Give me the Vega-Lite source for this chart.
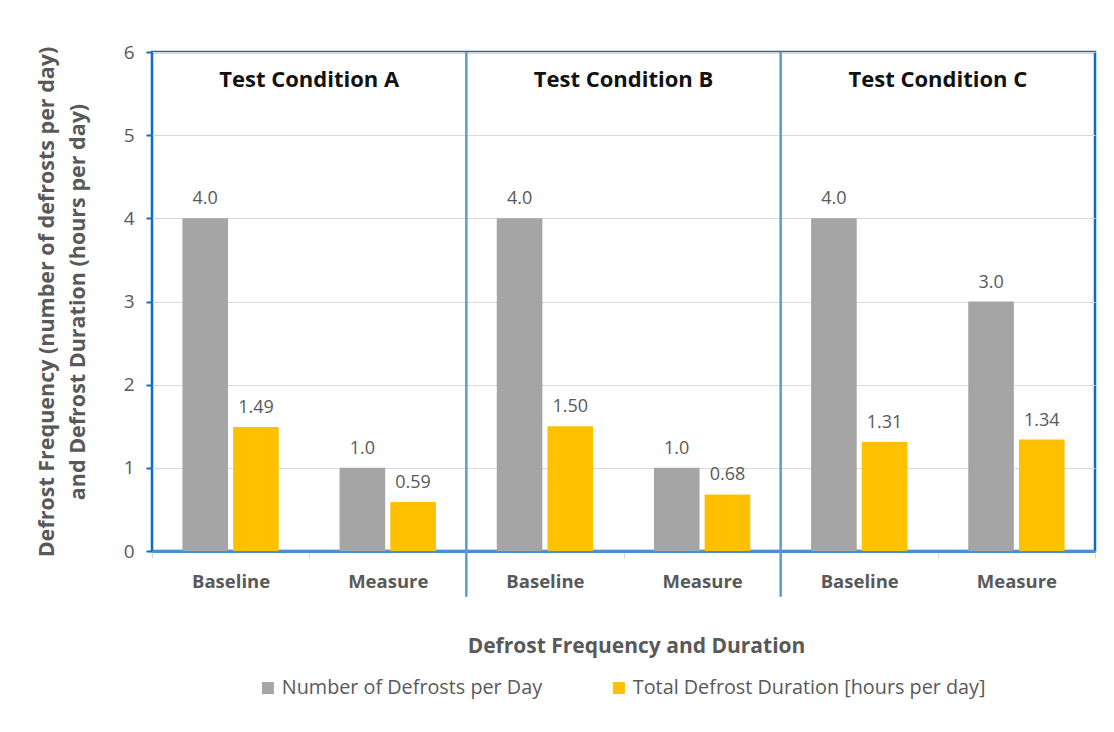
{
  "$schema": "https://vega.github.io/schema/vega-lite/v6.json",
  "width": 943,
  "height": 499,
  "autosize": {"type": "none"},
  "padding": {"left": 152, "top": 52, "right": 19, "bottom": 181},
  "background": "white",
  "config": {
    "font": "Open Sans",
    "view": {"stroke": "#0a6ec4", "strokeWidth": 2.5},
    "axis": {"labelFont": "Open Sans", "titleFont": "Open Sans"}
  },
  "datasets": {
    "bars": [
      {"grp": "A-Baseline", "series": "Number of Defrosts per Day", "value": 4.0, "label": "4.0"},
      {"grp": "A-Baseline", "series": "Total Defrost Duration [hours per day]", "value": 1.49, "label": "1.49"},
      {"grp": "A-Measure", "series": "Number of Defrosts per Day", "value": 1.0, "label": "1.0"},
      {"grp": "A-Measure", "series": "Total Defrost Duration [hours per day]", "value": 0.59, "label": "0.59"},
      {"grp": "B-Baseline", "series": "Number of Defrosts per Day", "value": 4.0, "label": "4.0"},
      {"grp": "B-Baseline", "series": "Total Defrost Duration [hours per day]", "value": 1.50, "label": "1.50"},
      {"grp": "B-Measure", "series": "Number of Defrosts per Day", "value": 1.0, "label": "1.0"},
      {"grp": "B-Measure", "series": "Total Defrost Duration [hours per day]", "value": 0.68, "label": "0.68"},
      {"grp": "C-Baseline", "series": "Number of Defrosts per Day", "value": 4.0, "label": "4.0"},
      {"grp": "C-Baseline", "series": "Total Defrost Duration [hours per day]", "value": 1.31, "label": "1.31"},
      {"grp": "C-Measure", "series": "Number of Defrosts per Day", "value": 3.0, "label": "3.0"},
      {"grp": "C-Measure", "series": "Total Defrost Duration [hours per day]", "value": 1.34, "label": "1.34"}
    ],
    "dividers": [
      {"grp": "A-Measure", "top": 6, "bottom": -0.55},
      {"grp": "B-Measure", "top": 6, "bottom": -0.55}
    ],
    "conditions": [
      {"grp": "A-Baseline", "name": "Test Condition A", "pos": 5.66},
      {"grp": "B-Baseline", "name": "Test Condition B", "pos": 5.66},
      {"grp": "C-Baseline", "name": "Test Condition C", "pos": 5.66}
    ]
  },
  "layer": [
    {
      "data": {"name": "bars"},
      "mark": {"type": "bar"},
      "encoding": {
        "x": {
          "field": "grp",
          "type": "nominal",
          "scale": {
            "domain": ["A-Baseline", "A-Measure", "B-Baseline", "B-Measure", "C-Baseline", "C-Measure"],
            "paddingInner": 0,
            "paddingOuter": 0
          },
          "axis": {
            "title": "Defrost Frequency and Duration",
            "titleFontSize": 21,
            "titleFontWeight": "bold",
            "titleColor": "#595959",
            "titlePadding": 45,
            "titleX": 484,
            "labelExpr": "split(datum.label, '-')[1]",
            "labelAngle": 0,
            "labelFontSize": 18.5,
            "labelFontWeight": "bold",
            "labelColor": "#595959",
            "labelPadding": 14,
            "domainColor": "#4a8fd6",
            "domainWidth": 3,
            "tickColor": "#d9d9d9",
            "tickSize": 7,
            "tickBand": "extent",
            "grid": false
          }
        },
        "xOffset": {
          "field": "series",
          "type": "nominal",
          "scale": {"paddingInner": 0.1, "paddingOuter": 0.6}
        },
        "y": {
          "field": "value",
          "type": "quantitative",
          "scale": {"domain": [0, 6], "nice": false, "zero": true},
          "axis": {
            "title": ["Defrost Frequency (number of defrosts per day)", "and Defrost Duration  (hours per day)"],
            "titleFontSize": 21.5,
            "titleFontWeight": "bold",
            "titleColor": "#595959",
            "titleLineHeight": 31,
            "titlePadding": 34,
            "values": [0, 1, 2, 3, 4, 5, 6],
            "format": "d",
            "labelOverlap": false,
            "labelFontSize": 19,
            "labelColor": "#595959",
            "labelPadding": 12,
            "domain": false,
            "tickColor": "#0a6ec4",
            "tickSize": 6,
            "tickWidth": 2,
            "grid": true,
            "gridColor": "#d9d9d9",
            "gridWidth": 1
          }
        },
        "color": {
          "field": "series",
          "type": "nominal",
          "scale": {
            "domain": ["Number of Defrosts per Day", "Total Defrost Duration [hours per day]"],
            "range": ["#a5a5a5", "#ffc000"]
          },
          "legend": {
            "title": null,
            "orient": "none",
            "direction": "horizontal",
            "legendX": 106,
            "legendY": 626,
            "symbolType": "square",
            "symbolSize": 144,
            "symbolStrokeWidth": 0,
            "labelFontSize": 19.8,
            "labelColor": "#595959",
            "labelFont": "Open Sans",
            "labelLimit": 0,
            "labelOffset": 4,
            "columnPadding": 66
          }
        }
      }
    },
    {
      "data": {"name": "bars"},
      "mark": {"type": "text", "baseline": "bottom", "dy": -10, "fontSize": 18, "color": "#595959"},
      "encoding": {
        "x": {"field": "grp", "type": "nominal"},
        "xOffset": {"field": "series", "type": "nominal"},
        "y": {"field": "value", "type": "quantitative"},
        "text": {"field": "label", "type": "nominal"}
      }
    },
    {
      "data": {"name": "dividers"},
      "mark": {"type": "rule", "color": "#5b9bd5", "strokeWidth": 2.5},
      "encoding": {
        "x": {"field": "grp", "type": "nominal", "bandPosition": 1},
        "y": {"field": "top", "type": "quantitative"},
        "y2": {"field": "bottom"}
      }
    },
    {
      "data": {"name": "conditions"},
      "mark": {"type": "text", "fontSize": 22, "fontWeight": "bold", "color": "#111111", "baseline": "middle"},
      "encoding": {
        "x": {"field": "grp", "type": "nominal", "bandPosition": 1},
        "y": {"field": "pos", "type": "quantitative"},
        "text": {"field": "name", "type": "nominal"}
      }
    }
  ]
}
